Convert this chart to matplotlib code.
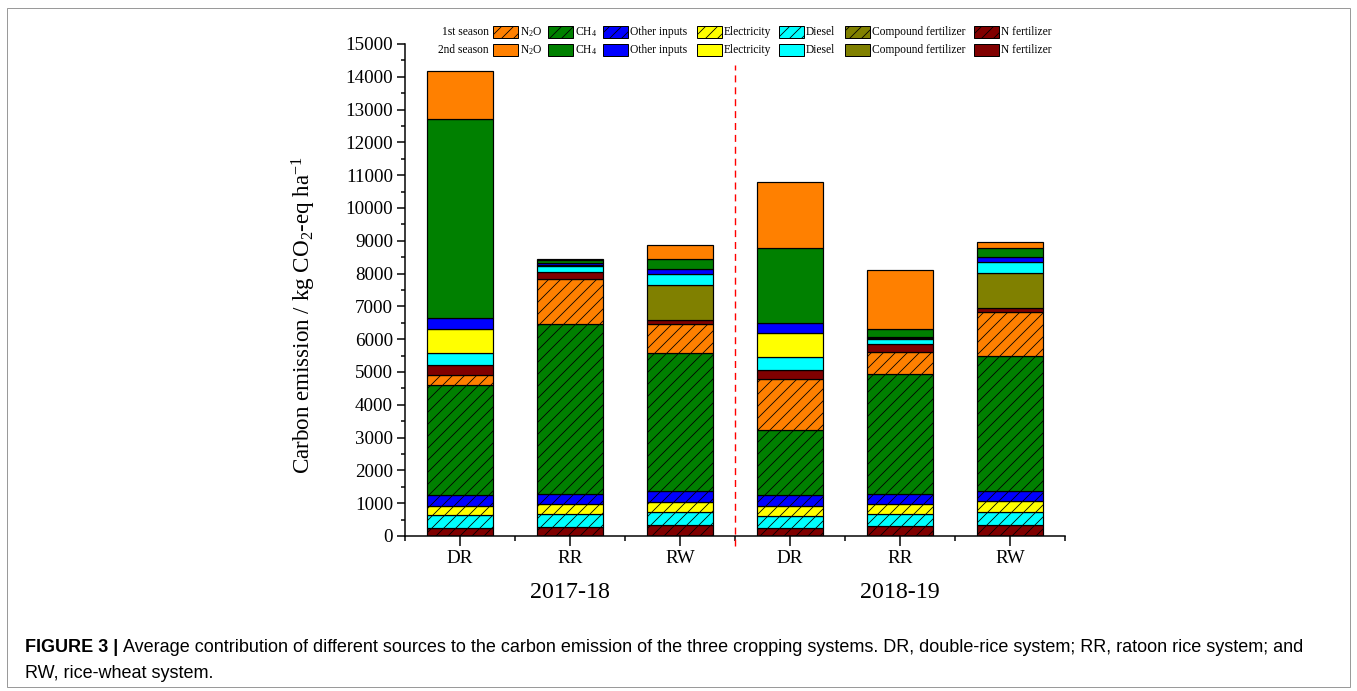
import matplotlib
matplotlib.use("Agg")
import matplotlib.pyplot as plt
from matplotlib.patches import Rectangle
from matplotlib.ticker import MultipleLocator, FixedLocator
import numpy as np

plt.rcParams["font.family"] = ["Liberation Serif", "DejaVu Serif"]
plt.rcParams["mathtext.fontset"] = "custom"
plt.rcParams["mathtext.rm"] = "Liberation Serif"
plt.rcParams["mathtext.it"] = "Liberation Serif:italic"
plt.rcParams["mathtext.bf"] = "Liberation Serif:bold"
plt.rcParams["hatch.linewidth"] = 0.8

# ---- data -------------------------------------------------------------
years = ["2017-18", "2018-19"]
systems = ["DR", "RR", "RW", "DR", "RR", "RW"]

sources = ["N fertilizer", "Compound fertilizer", "Diesel", "Electricity",
           "Other inputs", "CH$_4$", "N$_2$O"]
colors = {"N fertilizer": "#800000", "Compound fertilizer": "#808000",
          "Diesel": "#00FFFF", "Electricity": "#FFFF00",
          "Other inputs": "#0000FF", "CH$_4$": "#008000", "N$_2$O": "#FF8000"}

# kg CO2-eq ha-1, bars in order DR, RR, RW (2017-18) then DR, RR, RW (2018-19)
first_n_fert   = [250, 285, 325, 255, 295, 330]
first_compound = [0, 0, 0, 0, 0, 0]
first_diesel   = [380, 375, 405, 370, 370, 410]
first_elec     = [290, 305, 315, 295, 315, 315]
first_other    = [345, 315, 315, 335, 305, 315]
first_ch4      = [3340, 5190, 4220, 1980, 3660, 4115]
first_n2o      = [315, 1360, 885, 1555, 670, 1345]

second_n_fert   = [295, 225, 130, 275, 245, 135]
second_compound = [0, 0, 1060, 0, 0, 1065]
second_diesel   = [365, 170, 335, 385, 150, 325]
second_elec     = [740, 50, 0, 745, 40, 0]
second_other    = [325, 40, 150, 305, 30, 150]
second_ch4      = [6070, 90, 305, 2285, 220, 275]
second_n2o      = [1460, 35, 425, 2010, 1825, 185]

first_season = [first_n_fert, first_compound, first_diesel, first_elec,
                first_other, first_ch4, first_n2o]
second_season = [second_n_fert, second_compound, second_diesel, second_elec,
                 second_other, second_ch4, second_n2o]

# ---- figure -----------------------------------------------------------
W, H = 1357, 691
DPI = 72
fig = plt.figure(figsize=(W / DPI, H / DPI), dpi=DPI)

ax_left, ax_right, ax_top, ax_bottom = 405, 1065, 44, 536
ax = fig.add_axes([ax_left / W, 1 - ax_bottom / H,
                   (ax_right - ax_left) / W, (ax_bottom - ax_top) / H])

x = np.arange(1, len(systems) + 1)
bar_w = 0.6
bottom = np.zeros(len(systems))
for hatch, season in (("//", first_season), ("", second_season)):
    for name, vals in zip(sources, season):
        vals = np.asarray(vals, dtype=float)
        for i in range(len(x)):
            if vals[i] > 0:
                ax.bar(x[i], vals[i], bar_w, bottom=bottom[i],
                       color=colors[name], edgecolor="black", linewidth=1.2,
                       hatch=hatch, zorder=2)
        bottom += vals

# separator between the two years
ax.plot([3.5, 3.5], [-300, 14350], color="#FF0000", lw=1.4,
        ls=(0, (5, 3.5)), clip_on=False, zorder=3)

ax.set_xlim(0.5, 6.5)
ax.set_ylim(0, 15000)
ax.spines["top"].set_visible(False)
ax.spines["right"].set_visible(False)
for s in ("left", "bottom"):
    ax.spines[s].set_linewidth(1.5)

ax.set_xticks(x)
ax.set_xticklabels(systems, fontsize=19)
ax.xaxis.set_minor_locator(FixedLocator(np.arange(0.5, 7.0, 1.0)))
ax.yaxis.set_major_locator(MultipleLocator(1000))
ax.yaxis.set_minor_locator(MultipleLocator(500))
ax.tick_params(axis="both", which="major", direction="out", width=1.5,
               length=10, labelsize=19, pad=4)
ax.tick_params(axis="both", which="minor", direction="out", width=1.5,
               length=5)
ax.tick_params(axis="y", which="major", length=8)
ax.tick_params(axis="y", which="minor", length=4)

ax.set_ylabel("Carbon emission / kg CO$_2$-eq ha$^{\\mathrm{-1}}$", fontsize=23)
ax.yaxis.set_label_coords(-0.132, 0.45)

# year labels under each group
for xi, yr in zip([2, 5], years):
    fig.text((ax_left + (xi - 0.5) * 110) / W, 1 - 592 / H, yr,
             ha="center", va="center", fontsize=24)

# ---- legend (two rows: hatched = 1st season, plain = 2nd season) ------
legend_items = [("N$_2$O", 493), ("CH$_4$", 548), ("Other inputs", 603),
                ("Electricity", 697), ("Diesel", 779),
                ("Compound fertilizer", 845), ("N fertilizer", 974)]
row_y = [32, 50]
row_names = ["1st season", "2nd season"]
row_hatch = ["//", ""]
pw, ph = 25, 11
for r in range(2):
    yc = row_y[r]
    fig.text(489 / W, 1 - yc / H, row_names[r], ha="right", va="center",
             fontsize=11.5)
    for label, px in legend_items:
        fig.patches.append(Rectangle((px / W, 1 - (yc + ph / 2) / H),
                                     pw / W, ph / H,
                                     transform=fig.transFigure,
                                     facecolor=colors[label],
                                     edgecolor="black", linewidth=1.0,
                                     hatch=row_hatch[r]))
        fig.text((px + pw + 2) / W, 1 - yc / H, label, ha="left",
                 va="center", fontsize=11.5)

# ---- caption and frame -------------------------------------------------
fig.patches.append(Rectangle((7 / W, 1 - 687 / H), (1350 - 7) / W,
                             (687 - 8) / H, transform=fig.transFigure,
                             facecolor="none", edgecolor="#9a9a9a",
                             linewidth=1.0))

cap_font = dict(family=["Liberation Sans", "DejaVu Sans"], fontsize=18)
lead = fig.text(25 / W, 1 - 648 / H, "FIGURE 3 | ", ha="left", va="center",
                fontweight="bold", **cap_font)
fig.canvas.draw()
bb = lead.get_window_extent(renderer=fig.canvas.get_renderer())
fig.text(bb.x1 / W, 1 - 648 / H,
         "Average contribution of different sources to the carbon emission "
         "of the three cropping systems. DR, double-rice system; RR, ratoon "
         "rice system; and", ha="left", va="center", **cap_font)
fig.text(25 / W, 1 - 674 / H, "RW, rice-wheat system.", ha="left",
         va="center", **cap_font)

fig.savefig("out.png", dpi=DPI)
